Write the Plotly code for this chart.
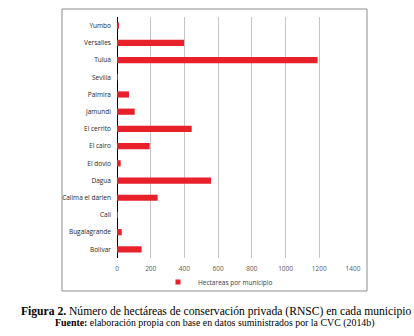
import plotly.graph_objects as go

categories = ["Yumbo", "Versalles", "Tulua", "Sevilla", "Palmira", "Jamundi", "El cerrito",
              "El cairo", "El dovio", "Dagua", "Calima el darien", "Cali", "Bugalagrande", "Bolivar"]
hectareas = [12, 398, 1190, 5, 71, 105, 443, 194, 22, 558, 241, 1, 28, 146]
x_ticks = [0, 200, 400, 600, 800, 1000, 1200, 1400]
series_name = "Hectareas por municipio"
bar_color = "#e8202a"

W, H = 414, 336
L, R, T, B = 117, 61, 17, 78
pw, ph = W - L - R, H - T - B

def px(x):
    return (x - L) / pw

def py(y):
    return (H - B - y) / ph

fig = go.Figure()
fig.add_trace(go.Bar(
    y=categories, x=hectareas, orientation="h", name=series_name,
    marker=dict(color=bar_color, line=dict(width=0)), width=0.36,
    showlegend=False,
))
# legend entry with a small square symbol
fig.add_trace(go.Scatter(
    x=[None], y=[None], mode="markers", name=series_name,
    marker=dict(symbol="square", size=5, color=bar_color), showlegend=True,
))

fig.update_layout(
    width=W, height=H,
    margin=dict(l=L, r=R, t=T, b=B),
    paper_bgcolor="white", plot_bgcolor="white",
    font=dict(family="Open Sans, Liberation Sans, sans-serif", size=6.5, color="#404040"),
    showlegend=True,
    legend=dict(x=px(158), y=py(282), xanchor="left", yanchor="middle",
                orientation="h", font=dict(size=6.5, color="#404040"),
                itemwidth=30, bgcolor="rgba(0,0,0,0)", tracegroupgap=0),
    xaxis=dict(range=[0, 1400], tickvals=x_ticks, showgrid=True, gridcolor="#c4c4c4",
               gridwidth=1, zeroline=True, zerolinecolor="black", zerolinewidth=1,
               showline=False, ticks="outside", ticklen=4, tickcolor="rgba(0,0,0,0)",
               tickfont=dict(size=6.5, color="#595959"), fixedrange=True),
    yaxis=dict(categoryorder="array", categoryarray=categories[::-1], showgrid=False,
               showline=False, ticks="", ticksuffix="   ",
               tickfont=dict(size=6.5, color="#262626"), fixedrange=True),
    bargap=0.64,
)

fig.add_shape(type="rect", xref="paper", yref="paper",
              x0=px(62), x1=px(367), y0=py(291), y1=py(9),
              line=dict(color="#8c8c8c", width=1), fillcolor="rgba(0,0,0,0)", layer="below")

fig.add_annotation(xref="paper", yref="paper", x=px(215.5), y=py(311), xanchor="center", yanchor="middle",
                   showarrow=False,
                   text="<b>Figura 2.</b> Número de hectáreas de conservación privada (RNSC) en cada municipio",
                   font=dict(family="Liberation Serif, serif", size=11.6, color="black"))
fig.add_annotation(xref="paper", yref="paper", x=px(214.5), y=py(323), xanchor="center", yanchor="middle",
                   showarrow=False,
                   text="<b>Fuente:</b> elaboración propia con base en datos suministrados por la CVC (2014b)",
                   font=dict(family="Liberation Serif, serif", size=9.9, color="black"))

fig.write_html("out.html")
